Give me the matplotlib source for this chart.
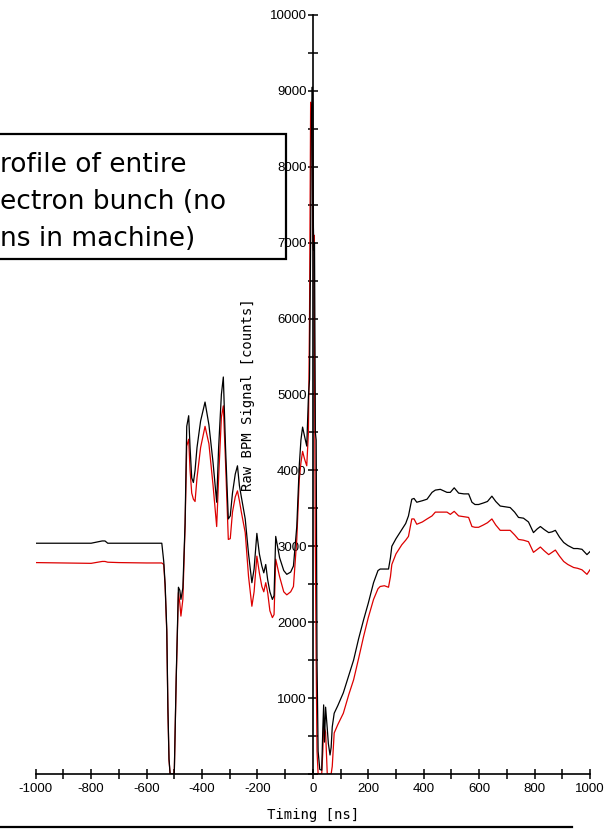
import matplotlib
matplotlib.use("Agg")
import matplotlib.pyplot as plt
from matplotlib.patches import Rectangle
from matplotlib.lines import Line2D
from matplotlib.ticker import MultipleLocator, FixedLocator

# BPM raw signal vs. timing, two traces
time_ns = [-1000, -900, -800, -760, -750, -740, -700, -600, -545, -538, -533, -527,
           -523, -519, -515, -500, -498, -493, -490, -485, -480, -476, -469, -461,
           -455, -448, -443, -437, -431, -425, -418, -405, -389, -375, -360, -347,
           -340, -330, -323, -315, -305, -298, -290, -280, -272, -265, -258, -244,
           -232, -220, -212, -202, -193, -184, -177, -170, -163, -155, -146, -140,
           -134, -120, -105, -94, -80, -70, -58, -49, -43, -37, -30, -22, -16, -12,
           -8, -5, -2, 0, 2, 4, 6, 9, 12, 15, 19, 25, 32, 36, 39, 42, 46, 50, 52,
           56, 62, 66, 70, 77, 90, 110, 130, 147, 165, 183, 200, 219, 235, 243, 258,
           273, 280, 285, 300, 321, 335, 345, 357, 365, 375, 395, 412, 430, 442, 460,
           484, 496, 510, 526, 545, 562, 574, 585, 598, 615, 630, 646, 660, 676, 695,
           712, 728, 742, 760, 778, 796, 810, 821, 835, 851, 863, 875, 890, 905, 920,
           941, 955, 971, 989, 1000]

black_counts = [3040, 3040, 3040, 3070, 3070, 3040, 3040, 3040, 3040, 2800, 2500, 1900,
                880, 200, 0, 0, 380, 1280, 1720, 2460, 2420, 2300, 2450, 3300,
                4580, 4720, 4300, 3900, 3840, 4000, 4300, 4650, 4900, 4600, 4100, 3580,
                4300, 5000, 5230, 4300, 3360, 3400, 3700, 3950, 4060, 3800, 3650, 3360,
                2900, 2520, 2700, 3170, 2900, 2740, 2650, 2760, 2560, 2400, 2300, 2350,
                3130, 2850, 2680, 2630, 2660, 2740, 3260, 4060, 4400, 4570, 4450, 4320, 4970, 5200,
                7000, 8700, 9050, 8800, 7200, 6900, 7000, 4500, 4400, 1500, 300, 60, 50, 600, 910, 420, 880, 700, 600,
                400, 250, 350, 620, 800, 900, 1070, 1300, 1500, 1780, 2030, 2250, 2520, 2680, 2700, 2700,
                2700, 2850, 3000, 3100, 3220, 3300, 3400, 3620, 3630, 3580, 3600, 3620, 3710, 3740, 3750,
                3710, 3710, 3770, 3700, 3690, 3690, 3580, 3550, 3550, 3570, 3590, 3660, 3590, 3530, 3520,
                3510, 3450, 3380, 3370, 3320, 3180, 3230, 3260, 3220, 3180, 3190, 3210, 3120, 3050, 3010,
                2970, 2970, 2960, 2890, 2930]

red_counts = [2785, 2780, 2775, 2800, 2800, 2790, 2785, 2780, 2780, 2760, 2470, 1860,
              845, 185, 0, 0, 356, 1240, 1680, 2390, 2250, 2080, 2300, 3260,
              4320, 4410, 4000, 3700, 3620, 3590, 3900, 4300, 4580, 4350, 3800, 3260,
              3900, 4700, 4850, 4100, 3090, 3100, 3450, 3650, 3730, 3600, 3450, 3180,
              2600, 2210, 2400, 2870, 2650, 2470, 2400, 2520, 2390, 2150, 2060, 2100,
              2830, 2600, 2400, 2360, 2400, 2470, 3090, 3880, 4100, 4250, 4150, 4060, 4500, 6000,
              8850, 8800, 8300, 7000, 6900, 7100, 5500, 3000, 1470, 300, 0, 0, 0, 300, 650, 600, 550, 200, 0,
              0, 0, 0, 100, 540, 650, 800, 1050, 1240, 1520, 1810, 2060, 2300, 2440, 2470, 2480,
              2460, 2600, 2760, 2900, 3020, 3080, 3130, 3360, 3360, 3290, 3320, 3360, 3400, 3450, 3450,
              3450, 3420, 3460, 3400, 3390, 3380, 3260, 3250, 3250, 3280, 3310, 3360, 3280, 3210, 3210,
              3210, 3150, 3090, 3080, 3060, 2920, 2960, 2990, 2940, 2890, 2920, 2950, 2870, 2800, 2760,
              2720, 2710, 2690, 2630, 2690]

x_ticks = list(range(-1000, 1001, 200))
y_ticks = list(range(1000, 10001, 1000))

note_lines = ["rofile of entire", "ectron bunch (no", "ns in machine)"]

fig = plt.figure(figsize=(6.07, 8.30), dpi=100)
ax = fig.add_axes([0.0588, 0.0675, 0.9132, 0.9145])

ax.plot(time_ns, red_counts, color="#dd0000", lw=0.9)
ax.plot(time_ns, black_counts, color="black", lw=0.9)

ax.set_xlim(-1000, 1000)
ax.set_ylim(0, 10000)

# y axis sits at t = 0
ax.spines["left"].set_position(("data", 0))
ax.spines["right"].set_visible(False)
ax.spines["top"].set_visible(False)
for s in ("left", "bottom"):
    ax.spines[s].set_linewidth(1.2)

ax.xaxis.set_major_locator(FixedLocator(x_ticks))
ax.xaxis.set_minor_locator(MultipleLocator(100))
ax.yaxis.set_major_locator(FixedLocator(y_ticks))
ax.yaxis.set_minor_locator(MultipleLocator(500))
ax.set_xticklabels([str(v) for v in x_ticks])
ax.set_yticklabels([str(v) for v in y_ticks])
ax.tick_params(which="both", direction="inout", length=7, width=1.1, color="black")
ax.tick_params(axis="x", pad=3)
ax.tick_params(axis="y", pad=1)
for lab in ax.get_xticklabels() + ax.get_yticklabels():
    lab.set_fontfamily("Liberation Sans")
    lab.set_fontsize(9.5)

ax.set_xlabel("Timing [ns]", family="DejaVu Sans Mono", fontsize=10)
ax.xaxis.set_label_coords(0.5, -0.045)
ax.set_ylabel("Raw BPM Signal [counts]", family="DejaVu Sans Mono", fontsize=10)
ax.yaxis.set_label_coords(0.395, 0.5)

# note box in the upper left
fig.patches.append(Rectangle((-0.02, (830 - 259) / 830), 0.02 + 286 / 607, 125 / 830,
                             transform=fig.transFigure, fill=False, lw=1.6,
                             edgecolor="black"))
for i, line in enumerate(note_lines):
    fig.text(0.0, (830 - (172 + 37 * i)) / 830, line, fontsize=19,
             family="DejaVu Sans", va="baseline", ha="left")

fig.lines.append(Line2D([0, 572 / 607], [3 / 830, 3 / 830], transform=fig.transFigure,
                        color="black", lw=1.6))

fig.savefig("out.png", dpi=100)
